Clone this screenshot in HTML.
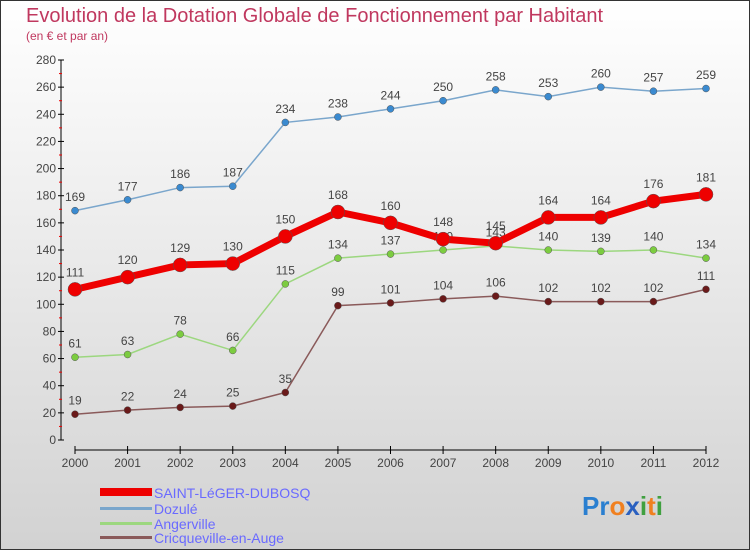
<!DOCTYPE html>
<html><head><meta charset="utf-8"><style>
body{margin:0}
svg{display:block;font-family:"Liberation Sans",sans-serif}
</style></head><body>
<svg width="750" height="550" id="c">
<defs><linearGradient id="bg" x1="0" y1="0" x2="0" y2="1"><stop offset="0" stop-color="#ffffff"/><stop offset="1" stop-color="#d2d2d2"/></linearGradient></defs>
<rect x="0.5" y="0.5" width="749" height="549" fill="url(#bg)" stroke="#333"/>
<text x="26" y="22" font-size="20" fill="#c0385f">Evolution de la Dotation Globale de Fonctionnement par Habitant</text>
<text x="26" y="40" font-size="12" fill="#c0385f">(en € et par an)</text>
<g id="axes"></g><g id="series"></g>
<g>
<rect x="100" y="488" width="52" height="8" fill="#e00"/>
<text x="154" y="498" font-size="14" fill="#6a6aff">SAINT-LéGER-DUBOSQ</text>
<rect x="100" y="507" width="52" height="3" fill="#7aa6cc"/>
<text x="154" y="514" font-size="14" fill="#6a6aff">Dozulé</text>
<rect x="100" y="522" width="52" height="3" fill="#9cd77f"/>
<text x="154" y="529" font-size="14" fill="#6a6aff">Angerville</text>
<rect x="100" y="536" width="52" height="3" fill="#8a5a5a"/>
<text x="154" y="543" font-size="14" fill="#6a6aff">Cricqueville-en-Auge</text>
</g>
<text x="582" y="515" font-size="26" font-weight="bold"><tspan fill="#2a7fd0">Pr</tspan><tspan fill="#f08020">o</tspan><tspan fill="#2a60c0">x</tspan><tspan fill="#40a040">i</tspan><tspan fill="#f08020">t</tspan><tspan fill="#40a040">i</tspan></text>
</svg>
<script>
const years=[2000,2001,2002,2003,2004,2005,2006,2007,2008,2009,2010,2011,2012];
const yTicks=[0,20,40,60,80,100,120,140,160,180,200,220,240,260,280];
const saint=[111,120,129,130,150,168,160,148,145,164,164,176,181];
const dozule=[169,177,186,187,234,238,244,250,258,253,260,257,259];
const anger=[61,63,78,66,115,134,137,140,143,140,139,140,134];
const cricq=[19,22,24,25,35,99,101,104,106,102,102,102,111];
const NS='http://www.w3.org/2000/svg';
const X=i=>75+i*(706-75)/12, Y=v=>440-v*380/280;
function mk(t,a,p){const e=document.createElementNS(NS,t);for(const k in a)e.setAttribute(k,a[k]);p.appendChild(e);return e;}
const ax=document.getElementById('axes');
const yl=mk('line',{x1:61,y1:60,x2:61,y2:440,stroke:'#000'},ax);


const xl=mk('line',{x1:75,y1:450,x2:706,y2:450,stroke:'#000'},ax);


yTicks.forEach(v=>{
 mk('line',{x1:58,y1:Y(v),x2:64,y2:Y(v),stroke:'#000'},ax);
 if(v<280)mk('line',{x1:59,y1:Y(v+10),x2:62,y2:Y(v+10),stroke:'#e00'},ax);
 const t=mk('text',{x:56,y:Y(v)+4,'font-size':12,fill:'#444','text-anchor':'end'},ax);t.textContent=v;
 
 
});
years.forEach((y,i)=>{
 mk('line',{x1:X(i),y1:446,x2:X(i),y2:454,stroke:'#000'},ax);
 const t=mk('text',{x:X(i),y:467,'font-size':12,fill:'#444','text-anchor':'middle'},ax);t.textContent=y;
 
 
});
const sg=document.getElementById('series');
function series(d,col,dot,w,r,name){
 const g=mk('g',{},sg);
 
 
 mk('polyline',{points:d.map((v,i)=>X(i)+','+Y(v)).join(' '),fill:'none',stroke:col,'stroke-width':w},g);
 d.forEach((v,i)=>{
  const c=mk('circle',{cx:X(i),cy:Y(v),r:r,fill:dot,stroke:'#555','stroke-width':0.5},g);
  
  
  const t=mk('text',{x:X(i),y:Y(v)-(r+6),'font-size':12,fill:'#444','text-anchor':'middle'},g);t.textContent=v;
  
  
 });
}
series(cricq,'#8a5a5a','#6a1a1a',1.5,3.5,'series-cricqueville');
series(anger,'#9cd77f','#7ccc40',1.5,3.5,'series-angerville');
series(dozule,'#7aa6cc','#3a8ad0',1.5,3.5,'series-dozule');
series(saint,'#e00','#e00',7,7,'series-saint-leger');
</script>
</body></html>
